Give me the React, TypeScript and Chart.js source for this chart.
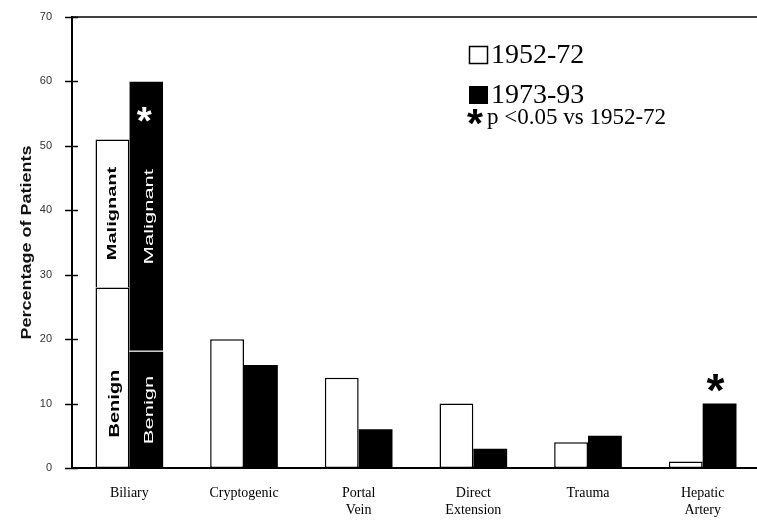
import React, { useEffect, useRef } from "react";
import { Chart, registerables } from "chart.js";

Chart.register(...registerables);

// ---- data ----
const categories: string[][] = [
  ["Biliary"],
  ["Cryptogenic"],
  ["Portal", "Vein"],
  ["Direct", "Extension"],
  ["Trauma"],
  ["Hepatic", "Artery"],
];
// 1952-72 (for Biliary: benign part; other causes: whole bar)
const early5272Base = [28, 20, 14, 10, 4, 1];
// 1952-72 Biliary malignant part
const early5272Malignant: (number | null)[] = [23, null, null, null, null, null];
// 1973-93 (for Biliary: benign part; other causes: whole bar)
const late7393Base = [18, 16, 6, 3, 5, 10];
// 1973-93 Biliary malignant part
const late7393Malignant: (number | null)[] = [42, null, null, null, null, null];
// p < 0.05 vs 1952-72
const significant = [true, false, false, false, false, true];
const yTicks = [0, 10, 20, 30, 40, 50, 60, 70];
const legendLabels = ["1952-72", "1973-93", "p <0.05 vs 1952-72"];
const yTitle = "Percentage of Patients";
const segmentLabels = ["Malignant", "Benign"];

function drawStar(ctx: CanvasRenderingContext2D, cx: number, cy: number, w: number, color: string) {
  ctx.save();
  ctx.font = "bold 100px 'Liberation Sans'";
  const m0 = ctx.measureText("*");
  const bw = m0.actualBoundingBoxRight + m0.actualBoundingBoxLeft;
  const size = (w / bw) * 100;
  ctx.font = `bold ${size}px 'Liberation Sans'`;
  const m = ctx.measureText("*");
  ctx.textAlign = "left";
  ctx.textBaseline = "alphabetic";
  ctx.fillStyle = color;
  const x = cx - (m.actualBoundingBoxRight - m.actualBoundingBoxLeft) / 2;
  const y = cy + (m.actualBoundingBoxAscent - m.actualBoundingBoxDescent) / 2;
  ctx.fillText("*", x, y);
  ctx.restore();
}

function drawRot(
  ctx: CanvasRenderingContext2D,
  text: string,
  cx: number,
  cy: number,
  font: string,
  color: string,
  squash: number
) {
  ctx.save();
  ctx.translate(cx, cy);
  ctx.rotate(-Math.PI / 2);
  ctx.scale(1, squash);
  ctx.font = font;
  ctx.fillStyle = color;
  ctx.textAlign = "center";
  ctx.textBaseline = "middle";
  ctx.fillText(text, 0, 0);
  ctx.restore();
}

const overlay = {
  id: "overlay",
  afterDraw(chart: any) {
    const { ctx, chartArea: a, scales } = chart;
    const y = scales.y;
    ctx.save();
    // top frame line
    ctx.strokeStyle = "#000";
    ctx.lineWidth = 1.5;
    ctx.beginPath();
    ctx.moveTo(a.left, a.top);
    ctx.lineTo(a.right, a.top);
    ctx.stroke();
    // tick marks crossing the y axis
    yTicks.forEach((v) => {
      const py = Math.round(y.getPixelForValue(v)) + 0.5;
      ctx.beginPath();
      ctx.moveTo(a.left - 7, py);
      ctx.lineTo(a.left + 6, py);
      ctx.stroke();
    });

    // y title
    drawRot(ctx, yTitle, 27, (a.top + a.bottom) / 2, "bold 18px 'Liberation Sans'", "#111", 0.78);

    // segment labels in Biliary bars
    const e = chart.getDatasetMeta(1).data[0];
    const l = chart.getDatasetMeta(3).data[0];
    if (e && l) {
      drawRot(ctx, segmentLabels[0], e.x, (y.getPixelForValue(28) + y.getPixelForValue(51)) / 2, "bold 20px 'Liberation Sans'", "#000", 0.6);
      drawRot(ctx, segmentLabels[1], e.x + 3, y.getPixelForValue(10), "bold 20px 'Liberation Sans'", "#000", 0.7);
      drawRot(ctx, segmentLabels[0], l.x + 3, (y.getPixelForValue(18) + y.getPixelForValue(60)) / 2, "22px 'Liberation Sans'", "#fff", 0.55);
      drawRot(ctx, segmentLabels[1], l.x + 3, y.getPixelForValue(9), "22px 'Liberation Sans'", "#fff", 0.6);
    }

    // significance stars
    significant.forEach((s, i) => {
      if (!s) return;
      const lateTotal = (late7393Base[i] || 0) + (late7393Malignant[i] || 0);
      const top = y.getPixelForValue(lateTotal);
      const bar = chart.getDatasetMeta(2).data[i];
      if (lateTotal > 30) drawStar(ctx, bar.x - 2, top + 33, 15, "#fff");
      else drawStar(ctx, bar.x - 4, top - 21, 18, "#000");
    });

    // legend
    const lx = a.left + 397;
    const ly = a.top;
    ctx.lineWidth = 1.5;
    ctx.strokeStyle = "#000";
    ctx.strokeRect(lx + 0.5, ly + 29.5, 18, 17);
    ctx.fillStyle = "#000";
    ctx.fillRect(lx, ly + 69, 19, 18);
    ctx.textAlign = "left";
    ctx.textBaseline = "alphabetic";
    ctx.font = "28px 'Liberation Serif'";
    ctx.fillText(legendLabels[0], lx + 22, ly + 46);
    ctx.fillText(legendLabels[1], lx + 22, ly + 86);
    drawStar(ctx, lx + 6, ly + 100, 16, "#000");
    ctx.font = "23px 'Liberation Serif'";
    ctx.fillText(legendLabels[2], lx + 18, ly + 107);
    ctx.restore();
  },
};

export default function App() {
  const ref = useRef<HTMLCanvasElement>(null);
  useEffect(() => {
    const whiteBar = {
      backgroundColor: "#fff",
      borderColor: "#000",
      categoryPercentage: 0.59,
      barPercentage: 1,
    };
    const chart = new Chart(ref.current!, {
      type: "bar",
      data: {
        labels: categories as any,
        datasets: [
          { ...whiteBar, label: legendLabels[0], data: early5272Base, stack: "early", borderWidth: 1.5, borderSkipped: false } as any,
          { ...whiteBar, label: legendLabels[0] + " malignant", data: early5272Malignant, stack: "early", borderWidth: 1.5, borderSkipped: "start" } as any,
          { label: legendLabels[1], data: late7393Base, stack: "late", backgroundColor: "#000", borderWidth: 0, categoryPercentage: 0.59, barPercentage: 1 } as any,
          {
            label: legendLabels[1] + " malignant",
            data: late7393Malignant,
            stack: "late",
            backgroundColor: "#000",
            borderColor: "#c8c8c8",
            borderWidth: { top: 0, left: 0, right: 0, bottom: 1.5 },
            borderSkipped: false,
            categoryPercentage: 0.59,
            barPercentage: 1,
          } as any,
        ],
      },
      options: {
        responsive: false,
        animation: false,
        devicePixelRatio: 1,
        layout: { padding: { top: 17, right: 0, left: 0, bottom: 0 } },
        plugins: { legend: { display: false }, tooltip: { enabled: false } },
        scales: {
          x: {
            stacked: true,
            grid: { display: false, drawTicks: false },
            border: { display: true, color: "#000", width: 2 },
            ticks: {
              padding: 17,
              color: "#000",
              font: { family: "'Liberation Serif'", size: 14, lineHeight: 1.2 },
              maxRotation: 0,
              autoSkip: false,
            },
            afterFit: (s: any) => {
              s.height = 56;
            },
          },
          y: {
            stacked: true,
            min: 0,
            max: 70,
            grid: { display: false, drawTicks: true, tickLength: 19 },
            border: { display: true, color: "#000", width: 2 },
            ticks: {
              stepSize: 10,
              padding: 1,
              color: "#333",
              font: { family: "'Liberation Sans'", size: 11 },
            },
            afterFit: (s: any) => {
              s.width = 72;
            },
          },
        },
      },
      plugins: [overlay],
    });
    return () => chart.destroy();
  }, []);
  return (
    <div style={{ position: "fixed", left: 0, top: 0, width: 757, height: 524, overflow: "hidden", background: "#fff" }}>
      <canvas ref={ref} width={760} height={524} style={{ display: "block", width: 760, height: 524 }} />
    </div>
  );
}
